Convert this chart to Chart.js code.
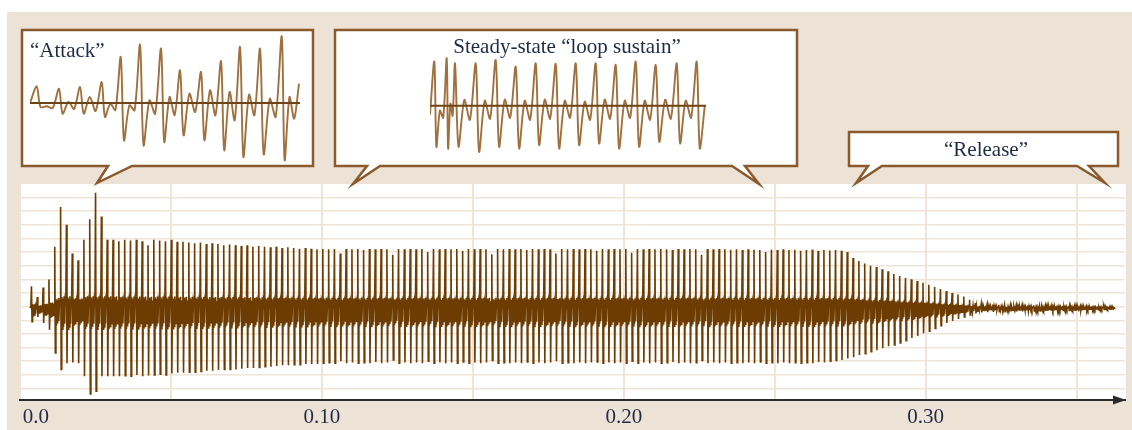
<!DOCTYPE html>
<html><head><meta charset="utf-8">
<script src="https://cdn.jsdelivr.net/npm/chart.js@4.4.1/dist/chart.umd.min.js"></script>
<style>
html,body{margin:0;padding:0;background:#fff;}
#wrap{position:relative;width:1132px;height:430px;overflow:hidden;}
#wrap canvas{position:absolute;}
</style></head><body>
<div id="wrap">
<canvas id="main" width="1132" height="430" style="left:0;top:0"></canvas>
<canvas id="attack" width="272" height="132" style="left:30px;top:33px"></canvas>
<canvas id="steady" width="278" height="101" style="left:430px;top:55px"></canvas>
</div>
<script>
// ---------- DATA ----------
const xTickValues = [0, 0.1, 0.2, 0.3];
const xTickLabels = ['0.0', '0.10', '0.20', '0.30'];
const bubbleTexts = ['\u201CAttack\u201D', 'Steady-state \u201Cloop sustain\u201D', '\u201CRelease\u201D'];

// main waveform: one entry per cycle (period)
const cycleOnset = 0.0036;   // s
const cyclePeriod = 0.00193; // s
const mainPeaks = [
  1.6, 0.8, 1.5, 2.1, 4.5, 7.4, 6.1, 4.0, 3.5, 5.0, 6.5, 8.45, 6.7, 5.0,
  5.0, 4.9, 5.0, 4.95, 5.0, 4.9, 4.6, 5.0, 4.95, 4.9, 5.0, 4.85,
  4.85, 4.8, 4.75, 4.8, 4.7, 4.75, 4.7, 4.6, 4.65, 4.6, 4.55, 4.6,
  4.5, 4.55, 4.5, 4.45, 4.5, 4.4, 4.45, 4.4, 4.35, 4.4, 4.35, 4.3,
  4.33, 4.3, 4.33, 4.0, 4.33, 4.3, 4.33, 4.25, 4.33, 4.3,
  4.33, 4.3, 3.9, 4.33, 4.3, 4.33, 4.3, 4.33, 4.1, 4.33,
  4.3, 4.33, 4.3, 4.33, 4.2, 4.33, 4.3, 4.33, 4.3, 3.95,
  4.33, 4.3, 4.33, 4.3, 4.33, 4.25, 4.33, 4.3, 4.33, 4.3,
  4.0, 4.33, 4.3, 4.33, 4.3, 4.33, 4.3, 4.2, 4.33, 4.3,
  4.33, 4.3, 4.33, 4.05, 4.33, 4.3, 4.33, 4.3, 4.33, 4.3,
  4.25, 4.33, 4.3, 4.33, 4.3, 3.9, 4.33, 4.3, 4.33, 4.3,
  4.28, 4.3, 4.25, 4.3, 4.28, 4.25, 4.1, 4.28, 4.25, 4.3,
  4.25, 4.28, 4.2, 4.25, 4.28, 4.2, 4.25, 4.22, 4.25, 4.2,
  4.1, 3.67, 3.45, 3.27, 3.1, 3.0, 2.85, 2.7, 2.5, 2.35,
  2.2, 2.1, 1.98, 1.86, 1.7, 1.54, 1.4, 1.24, 1.1, 0.99,
  0.85, 0.6, 0.37, 0.3, 0.26, 0.25, 0.24, 0.24, 0.23, 0.22,
  0.22, 0.21, 0.2, 0.2, 0.19, 0.18, 0.18, 0.17, 0.16, 0.16,
  0.15, 0.14, 0.13, 0.12, 0.1, 0.08
];
const mainTroughs = [
  -1.0, -0.65, -1.1, -1.6, -3.3, -4.5, -4.05, -4.0, -4.05, -5.0, -6.3, -6.1, -5.0, -5.0,
  -5.0, -5.0, -4.95, -5.0, -4.9, -5.0, -4.95, -4.9, -4.85, -4.9, -4.8, -4.75,
  -4.75, -4.7, -4.7, -4.65, -4.6, -4.6, -4.55, -4.5, -4.5, -4.5, -4.45, -4.4,
  -4.4, -4.35, -4.3, -4.3, -4.25, -4.2, -4.2, -4.15, -4.15, -4.1, -4.1, -4.1,
  -4.05, -4.0, -4.05, -3.9, -4.05, -4.0, -4.05, -4.0, -4.05, -3.95,
  -4.05, -4.0, -3.8, -4.05, -4.0, -4.05, -4.0, -4.05, -3.9, -4.05,
  -4.0, -4.05, -4.0, -4.05, -3.95, -4.05, -4.0, -4.05, -4.0, -3.85,
  -4.05, -4.0, -4.05, -4.0, -4.05, -3.95, -4.05, -4.0, -4.05, -4.0,
  -3.9, -4.05, -4.0, -4.05, -4.0, -4.05, -4.0, -3.95, -4.05, -4.0,
  -4.05, -4.0, -4.05, -3.9, -4.05, -4.0, -4.05, -4.0, -4.05, -4.0,
  -3.95, -4.05, -4.0, -4.05, -4.0, -3.85, -4.05, -4.0, -4.05, -4.0,
  -4.05, -4.0, -4.05, -4.0, -4.05, -3.95, -4.05, -4.0, -4.05, -4.0,
  -4.05, -4.0, -4.05, -4.0, -4.05, -3.95, -4.0, -3.9, -3.85, -3.8,
  -3.7, -3.6, -3.45, -3.35, -3.2, -3.1, -2.95, -2.8, -2.7, -2.55,
  -2.4, -2.2, -2.05, -1.85, -1.7, -1.5, -1.3, -1.1, -0.95, -0.8,
  -0.65, -0.5, -0.4, -0.32, -0.3, -0.28, -0.27, -0.26, -0.25, -0.24,
  -0.24, -0.23, -0.22, -0.22, -0.21, -0.2, -0.19, -0.18, -0.17, -0.16,
  -0.15, -0.14, -0.13, -0.12, -0.1, -0.08
];
// shape of one cycle between the spikes (the dense central band), relative to full sustain level
const loopFractions = [0, 0.1, 0.2, 0.3, 0.4, 0.5, 0.6, 0.7, 0.8, 0.9];
const loopBand      = [0.3, null, null, 0.7, -1.35, 0.6, -1.2, 0.75, -1.0, 0.5];

// "Attack" inset (positions in inset pixels)
const attackX       = [6.7, 29, 50, 71.7, 90.7, 110, 131, 150, 171, 191, 210, 230, 251.7, 269];
const attackPeaks   = [16.7, 14.3, 16, 21, 46, 58.3, 54.3, 32.7, 31, 41.7, 56, 54.3, 66.7, 19.3];
const attackTroughs = [-4, -10.7, -10.7, -14, -37.3, -42.3, -39, -32.3, -37.3, -47.3, -54, -51.3, -57.3, null];
const attackBumps   = [-3.3, 1, 6, -0.7, -2.3, 2.7, 6, 9.3, 12.7, 11, 8.3, 4.3, 6, null];
const attackDips    = [-5, -6, -8, -7, -7.3, -10.7, -12, -9, -12.3, -17.3, -12.3, -14, -15.7, null];

// "Steady-state loop sustain" inset
const steadyX       = [4.3, 16.7, 25, 45.7, 65.7, 85.7, 105.7, 125.7, 145.7, 165.7, 185.7, 205.7, 225.7, 246.7, 266.7];
const steadyPeaks   = [44, 47.3, 42.3, 42.3, 45.7, 39, 42.3, 41.7, 42.3, 42.3, 40.7, 44, 40.7, 42.3, 44];
const steadyTroughs = [-41, -42.7, -41, -46, -41, -42.7, -39.3, -42.7, -39.3, -37.7, -42.7, -41, -36, -37.7, -42.7];
const steadyBumps   = [-5, 2, 5.7, 5, 6, 5, 6, 5, 4, 6, 5, 5, 6, 5, 0];
const steadyDips    = [-12, -10, -14, -13, -12, -14, -13, -12, -14, -13, -12, -14, -13, -12, null];

// ---------- BUILD ----------
const mainPoints = [{x: cycleOnset - 0.0003, y: 0}];
mainPeaks.forEach((p, k) => {
  const t = mainTroughs[k];
  const s = Math.min(Math.pow((p - t) / 8.4, 0.75), 1.15);
  loopFractions.forEach((f, j) => {
    const y = j === 1 ? p : (j === 2 ? t : loopBand[j] * s);
    mainPoints.push({x: cycleOnset + (k + f) * cyclePeriod, y});
  });
});
mainPoints.push({x: cycleOnset + mainPeaks.length * cyclePeriod, y: 0});

function insetPoints(xs, peaks, troughs, bumps, dips, startY) {
  const pts = [{x: 0, y: startY}];
  xs.forEach((x, k) => {
    pts.push({x, y: peaks[k]});
    const d = k < xs.length - 1 ? xs[k + 1] - x : 18;
    if (troughs[k] != null) pts.push({x: x + 0.17 * d, y: troughs[k]});
    if (bumps[k] != null) pts.push({x: x + 0.45 * d, y: bumps[k]});
    if (dips[k] != null) pts.push({x: x + 0.72 * d, y: dips[k]});
  });
  return pts;
}

const BROWN = '#6c3c02';
const FONT = '"Liberation Serif", "Times New Roman", serif';
const TEXT = '#1f2b47';

function drawBubble(ctx, x0, y0, x1, y1, tails) {
  ctx.beginPath();
  ctx.moveTo(x0, y0); ctx.lineTo(x1, y0); ctx.lineTo(x1, y1);
  tails.forEach(t => { ctx.lineTo(t[1], y1); ctx.lineTo(t[2], t[3]); ctx.lineTo(t[0], y1); });
  ctx.lineTo(x0, y1); ctx.closePath();
  ctx.fillStyle = '#ffffff'; ctx.fill();
  ctx.strokeStyle = '#8a5a2c'; ctx.lineWidth = 2.5; ctx.lineJoin = 'miter'; ctx.stroke();
}

const decor = {
  id: 'decor',
  beforeDraw(chart) {
    const {ctx, chartArea: a} = chart;
    ctx.save();
    ctx.fillStyle = '#ffffff'; ctx.fillRect(0, 0, chart.width, chart.height);
    ctx.fillStyle = '#ede2d6'; ctx.fillRect(7, 12, chart.width - 7, chart.height - 12);
    ctx.fillStyle = '#ffffff'; ctx.fillRect(a.left, a.top, a.right - a.left + 1, a.bottom - a.top);
    ctx.restore();
  },
  afterDraw(chart) {
    const {ctx, chartArea: a} = chart;
    ctx.save();
    ctx.fillStyle = '#2b2b2b';
    ctx.beginPath();
    ctx.moveTo(a.right + 1, a.bottom);
    ctx.lineTo(a.right - 12, a.bottom - 4.5);
    ctx.lineTo(a.right - 12, a.bottom + 4.5);
    ctx.closePath(); ctx.fill();
    drawBubble(ctx, 22, 30, 313, 166, [[108, 132, 97, 183]]);
    drawBubble(ctx, 335, 30, 797, 166, [[732, 745, 759, 184], [367, 380, 353, 184]]);
    drawBubble(ctx, 849, 132, 1118, 166, [[1077, 1089, 1105, 183], [868, 882, 856, 183]]);
    ctx.fillStyle = TEXT;
    ctx.font = '21px ' + FONT;
    ctx.textBaseline = 'alphabetic';
    ctx.textAlign = 'left'; ctx.fillText(bubbleTexts[0], 30, 57);
    ctx.textAlign = 'center'; ctx.fillText(bubbleTexts[1], 567, 53);
    ctx.fillText(bubbleTexts[2], 986, 156);
    ctx.restore();
  }
};

new Chart(document.getElementById('main'), {
  type: 'line',
  data: { datasets: [{
    data: mainPoints, borderColor: BROWN, borderWidth: 1.6, pointRadius: 0, tension: 0, fill: false
  }]},
  options: {
    responsive: false, animation: false, devicePixelRatio: 1, parsing: false, normalized: true,
    layout: { padding: { left: 20, right: 7, top: 184, bottom: 0 } },
    plugins: { legend: { display: false }, tooltip: { enabled: false } },
    scales: {
      x: {
        type: 'linear', min: 0, max: 0.366,
        grid: { color: '#efe4d8', lineWidth: 2, drawTicks: false },
        border: { display: true, color: '#2b2b2b', width: 2 },
        ticks: {
          stepSize: 0.05, includeBounds: false, autoSkip: false, maxRotation: 0, padding: 5,
          color: TEXT, font: { family: FONT, size: 21 },
          callback: (v) => {
            const i = xTickValues.findIndex(t => Math.abs(t - v) < 1e-9);
            if (i < 0) return '';
            return i === 0 ? '      ' + xTickLabels[0] : xTickLabels[i];
          }
        },
        afterFit: (s) => { s.height = 30; s.paddingLeft = 0; s.paddingRight = 0; }
      },
      y: {
        type: 'linear', min: -6.74, max: 9.09,
        grid: { color: '#efe4d8', lineWidth: 1.5, drawTicks: false },
        border: { display: false },
        ticks: { display: false },
        afterBuildTicks: (s) => {
          const t = [];
          for (let k = -6; k <= 8; k++) t.push({ value: k + 0.1 });
          s.ticks = t;
        },
        afterFit: (s) => { s.width = 0; }
      }
    }
  },
  plugins: [decor]
});

function insetChart(id, pts, axisEnd, xMax, yMin, yMax) {
  new Chart(document.getElementById(id), {
    type: 'line',
    data: { datasets: [
      { data: [{x: 0, y: 0}, {x: axisEnd, y: 0}], borderColor: '#6e4416', borderWidth: 2, pointRadius: 0, order: 0 },
      { data: pts, borderColor: '#a0703e', borderWidth: 1.9, pointRadius: 0, tension: 0.3, order: 1 }
    ]},
    options: {
      responsive: false, animation: false, devicePixelRatio: 1, parsing: false,
      layout: { padding: 0 },
      plugins: { legend: { display: false }, tooltip: { enabled: false } },
      scales: {
        x: { type: 'linear', display: false, min: 0, max: xMax },
        y: { type: 'linear', display: false, min: yMin, max: yMax }
      }
    }
  });
}

insetChart('attack', insetPoints(attackX, attackPeaks, attackTroughs, attackBumps, attackDips, 0), 270, 272, -62, 70);
insetChart('steady', insetPoints(steadyX, steadyPeaks, steadyTroughs, steadyBumps, steadyDips, -9), 276, 278, -50.3, 50.7);
</script>
</body></html>
